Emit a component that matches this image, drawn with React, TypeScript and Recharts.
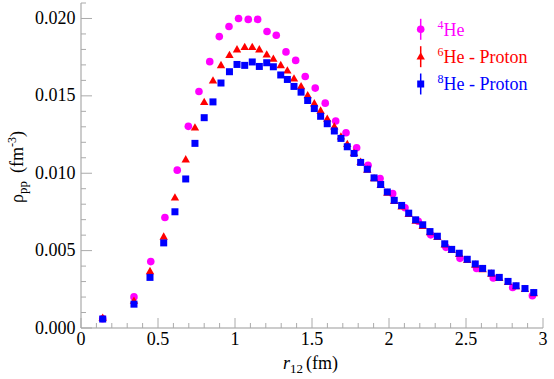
import React from 'react';
import { Scatter, ScatterChart, XAxis, YAxis } from 'recharts';

// 4He (own r grid)
const he4R = [0.141, 0.344, 0.453, 0.545, 0.625, 0.697, 0.766, 0.836, 0.898, 0.961, 1.023, 1.086, 1.147, 1.208, 1.268,
    1.331, 1.394, 1.456, 1.521, 1.586, 1.654, 1.721, 1.790, 1.864, 1.942, 2.024, 2.104, 2.190, 2.271, 2.370, 2.461,
    2.569, 2.677, 2.803, 2.931];
const he4Rho = [0.00060, 0.00201, 0.00429, 0.00714, 0.01020, 0.01303, 0.01528, 0.01721, 0.01883, 0.01948, 0.02000,
    0.01994, 0.01994, 0.01916, 0.01892, 0.01784, 0.01729, 0.01625, 0.01550, 0.01453, 0.01338, 0.01262, 0.01164,
    0.01052, 0.00966, 0.00868, 0.00777, 0.00690, 0.00602, 0.00521, 0.00450, 0.00385, 0.00323, 0.00262, 0.00208];

// 6He / 8He share the same r grid
const protonR = [0.141, 0.344, 0.448, 0.537, 0.610, 0.680, 0.740, 0.800, 0.857, 0.909, 0.964, 1.013, 1.063, 1.112,
    1.158, 1.206, 1.249, 1.297, 1.340, 1.383, 1.429, 1.472, 1.515, 1.556, 1.599, 1.645, 1.688, 1.729, 1.773, 1.816,
    1.859, 1.903, 1.946, 1.989, 2.034, 2.082, 2.128, 2.173, 2.219, 2.266, 2.314, 2.362, 2.407, 2.456, 2.508, 2.560,
    2.608, 2.664, 2.716, 2.773, 2.825, 2.883, 2.940];
const he6Rho = [0.00065, 0.00175, 0.00366, 0.00589, 0.00842, 0.01088, 0.01294, 0.01459, 0.01598, 0.01697, 0.01762,
    0.01799, 0.01814, 0.01814, 0.01799, 0.01766, 0.01738, 0.01697, 0.01662, 0.01611, 0.01561, 0.01502, 0.01450,
    0.01403, 0.01351, 0.01301, 0.01236, 0.01188, 0.01130, 0.01072, 0.01022, 0.00966, 0.00922, 0.00873, 0.00820,
    0.00783, 0.00735, 0.00692, 0.00658, 0.00617, 0.00586, 0.00538, 0.00502, 0.00477, 0.00438, 0.00408, 0.00379,
    0.00350, 0.00322, 0.00296, 0.00268, 0.00250, 0.00224];
const he8Rho = [0.00058, 0.00154, 0.00327, 0.00550, 0.00751, 0.00963, 0.01193, 0.01359, 0.01461, 0.01583, 0.01656,
    0.01703, 0.01697, 0.01719, 0.01690, 0.01714, 0.01688, 0.01635, 0.01606, 0.01561, 0.01524, 0.01470, 0.01418,
    0.01368, 0.01320, 0.01273, 0.01225, 0.01171, 0.01128, 0.01070, 0.01026, 0.00970, 0.00927, 0.00879, 0.00825,
    0.00792, 0.00742, 0.00699, 0.00667, 0.00623, 0.00593, 0.00544, 0.00508, 0.00483, 0.00444, 0.00414, 0.00385,
    0.00355, 0.00327, 0.00301, 0.00273, 0.00255, 0.00229];

const xTickLabels = ['0', '0.5', '1', '1.5', '2', '2.5', '3'];
const yTickLabels = ['0.000', '0.005', '0.010', '0.015', '0.020'];
const xTicks = Array.from({ length: 31 }, (_, i) => i / 10);
const yTicks = Array.from({ length: 22 }, (_, i) => i / 1000);

const he4 = he4R.map((x, i) => ({ x, y: he4Rho[i] }));
const he6 = protonR.map((x, i) => ({ x, y: he6Rho[i] }));
const he8 = protonR.map((x, i) => ({ x, y: he8Rho[i] }));

const FONT = 'Liberation Serif, DejaVu Serif, serif';
const FRAME = '#999';
const TICK = '#aaa';

const isXMajor = (v: number) => Math.abs(v * 2 - Math.round(v * 2)) < 1e-6;
const isYMajor = (v: number) => Math.abs(v / 0.005 - Math.round(v / 0.005)) < 1e-6;

function BottomTick(props: any) {
    const { x, y, payload } = props;
    const major = isXMajor(payload.value);
    return (
        <g>
            <line x1={x} y1={y} x2={x} y2={y - (major ? 10 : 5)} stroke={TICK} />
            {major && (
                <text x={x} y={y + 16.5} textAnchor='middle' fontFamily={FONT} fontSize={18} fill='#000'>
                    {xTickLabels[Math.round(payload.value * 2)]}
                </text>
            )}
        </g>
    );
}

function TopTick(props: any) {
    const { x, y, payload } = props;
    const major = isXMajor(payload.value);
    return <line x1={x} y1={y} x2={x} y2={y + (major ? 10 : 5)} stroke={TICK} />;
}

function LeftTick(props: any) {
    const { x, y, payload } = props;
    const major = isYMajor(payload.value);
    return (
        <g>
            <line x1={x} y1={y} x2={x + (major ? 11 : 5)} y2={y} stroke={TICK} />
            {major && (
                <text x={x - 5.5} y={y + 5.5} textAnchor='end' fontFamily={FONT} fontSize={18} fill='#000'>
                    {yTickLabels[Math.round(payload.value / 0.005)]}
                </text>
            )}
        </g>
    );
}

function RightTick(props: any) {
    const { x, y, payload } = props;
    const major = isYMajor(payload.value);
    return <line x1={x} y1={y} x2={x - (major ? 11 : 5)} y2={y} stroke={TICK} />;
}

const Dot = (p: any) => <circle cx={p.cx} cy={p.cy} r={3.8} fill='#ff00ff' />;
const Tri = (p: any) => (
    <polygon points={`${p.cx},${p.cy - 4.5} ${p.cx - 4.2},${p.cy + 2.8} ${p.cx + 4.2},${p.cy + 2.8}`} fill='#ff0000' />
);
const Sq = (p: any) => <rect x={p.cx - 3.5} y={p.cy - 3.5} width={7} height={7} fill='#0000ff' />;

const legendItems = [
    { sup: '4', text: 'He', color: '#ff00ff', y: 29.3, marker: 'dot' },
    { sup: '6', text: 'He - Proton', color: '#ff0000', y: 56.7, marker: 'tri' },
    { sup: '8', text: 'He - Proton', color: '#0000ff', y: 84, marker: 'sq' },
];

function Overlay() {
    return (
        <svg width={554} height={379} style={{ position: 'absolute', left: 0, top: 0, pointerEvents: 'none' }}>
            {legendItems.map((it) => (
                <g key={it.sup}>
                    <line x1={420.7} x2={420.7} y1={it.y - 10.5} y2={it.y + 10.5} stroke={it.color} strokeWidth={1.5} />
                    {it.marker === 'dot' && <circle cx={420.7} cy={it.y} r={3.8} fill={it.color} />}
                    {it.marker === 'tri' && <Tri cx={420.7} cy={it.y} />}
                    {it.marker === 'sq' && <Sq cx={420.7} cy={it.y} />}
                    <text x={437.5} y={it.y + 6.3} fontFamily={FONT} fontSize={18} fill={it.color}>
                        <tspan fontSize={12} dy={-7}>{it.sup}</tspan>
                        <tspan dy={7}>{it.text}</tspan>
                    </text>
                </g>
            ))}
            <text x={283} y={369} fontFamily={FONT} fontSize={18} fill='#000'>
                <tspan fontStyle='italic'>r</tspan>
                <tspan fontSize={13} dy={4}>12</tspan>
                <tspan dy={-4} dx={3}>(fm)</tspan>
            </text>
            <g transform='translate(22.5,167) rotate(-90)'>
                <text x={0} y={0} textAnchor='middle' fontFamily={FONT} fontSize={18} fill='#000'>
                    <tspan>ρ</tspan>
                    <tspan fontSize={13} dy={4}>pp</tspan>
                    <tspan dy={-4} dx={8}>(fm</tspan>
                    <tspan fontSize={12} dy={-7}>-3</tspan>
                    <tspan dy={7}>)</tspan>
                </text>
            </g>
        </svg>
    );
}

export default function App() {
    return (
        <div style={{ position: 'absolute', left: 0, top: 0, width: 554, height: 379, background: '#fff' }}>
            <ScatterChart width={554} height={379} margin={{ top: 3, right: 11, bottom: 0, left: 0 }}>
                <XAxis xAxisId='b' dataKey='x' type='number' domain={[0, 3]} ticks={xTicks} interval={0}
                       allowDataOverflow height={51} tickSize={0} tickMargin={0} tick={<BottomTick />}
                       axisLine={{ stroke: FRAME }} tickLine={false} />
                <XAxis xAxisId='t' orientation='top' dataKey='x' type='number' domain={[0, 3]} ticks={xTicks}
                       interval={0} allowDataOverflow height={0} tickSize={0} tickMargin={0} tick={<TopTick />}
                       axisLine={{ stroke: FRAME }} tickLine={false} />
                <YAxis yAxisId='l' dataKey='y' type='number' domain={[0, 0.021]} ticks={yTicks} interval={0}
                       allowDataOverflow width={81} tickSize={0} tickMargin={0} tick={<LeftTick />}
                       axisLine={{ stroke: FRAME }} tickLine={false} />
                <YAxis yAxisId='r' orientation='right' dataKey='y' type='number' domain={[0, 0.021]} ticks={yTicks}
                       interval={0} allowDataOverflow width={0} tickSize={0} tickMargin={0} tick={<RightTick />}
                       axisLine={{ stroke: FRAME }} tickLine={false} />
                <Scatter xAxisId='b' yAxisId='l' data={he4} shape={Dot} isAnimationActive={false} />
                <Scatter xAxisId='b' yAxisId='l' data={he6} shape={Tri} isAnimationActive={false} />
                <Scatter xAxisId='b' yAxisId='l' data={he8} shape={Sq} isAnimationActive={false} />
            </ScatterChart>
            <Overlay />
        </div>
    );
}
